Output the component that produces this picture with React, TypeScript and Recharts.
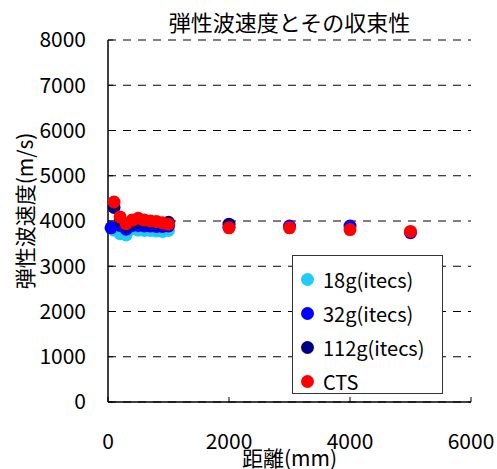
import React from 'react';
import {
  ScatterChart,
  Scatter,
  XAxis,
  YAxis,
  CartesianGrid,
  Legend,
} from 'recharts';

const FONT = '"Noto Sans CJK JP", "Noto Sans", sans-serif';

const xTicks = [0, 2000, 4000, 6000];
const yTicks = [0, 1000, 2000, 3000, 4000, 5000, 6000, 7000, 8000];

const dist18 = [100, 200, 300, 400, 500, 600, 700, 800, 900, 1000];
const vel18 = [3800, 3720, 3690, 3830, 3800, 3790, 3790, 3780, 3770, 3790];

const dist32 = [50, 200, 300, 400, 500, 600, 700, 800, 900, 1000, 2000, 3000, 4000, 5000];
const vel32 = [3850, 3900, 3820, 3900, 3900, 3890, 3890, 3880, 3880, 3890, 3870, 3890, 3890, 3740];

const dist112 = [100, 200, 300, 400, 500, 600, 700, 800, 900, 1000, 2000];
const vel112 = [4300, 4000, 3900, 3950, 3990, 3980, 3970, 3960, 3950, 3970, 3930];

const distCTS = [100, 200, 300, 400, 500, 600, 700, 800, 900, 1000, 2000, 3000, 4000, 5000];
const velCTS = [4420, 4090, 3940, 4020, 4060, 4020, 4000, 3990, 3960, 3930, 3850, 3850, 3810, 3770];

const toPoints = (xs: number[], ys: number[]) => xs.map((x, i) => ({ x, y: ys[i] }));

const series = [
  { name: '18g(itecs)', color: '#1ECCF5', data: toPoints(dist18, vel18) },
  { name: '32g(itecs)', color: '#0000FF', data: toPoints(dist32, vel32) },
  { name: '112g(itecs)', color: '#000080', data: toPoints(dist112, vel112) },
  { name: 'CTS', color: '#FF0000', data: toPoints(distCTS, velCTS) },
];

const dot = (color: string) => (props: any) => (
  <circle cx={props.cx} cy={props.cy} r={6.5} fill={color} />
);

const LegendBox = () => (
  <div
    style={{
      border: '1px solid #333',
      background: '#fff',
      padding: '6px 0 0 8px',
      boxSizing: 'border-box',
      width: 151,
      height: 139,
      fontFamily: FONT,
      fontSize: 20,
    }}
  >
    {series.map(s => (
      <div key={s.name} style={{ display: 'flex', alignItems: 'center', height: 34 }}>
        <span
          style={{
            width: 13,
            height: 13,
            borderRadius: '50%',
            background: s.color,
            marginRight: 9,
            display: 'inline-block',
          }}
        />
        <span>{s.name}</span>
      </div>
    ))}
  </div>
);

const YLabel = (props: any) => {
  const vb = props.viewBox;
  const cx = 24;
  const cy = vb.y + vb.height / 2 - 10;
  return (
    <text
      x={cx}
      y={cy}
      transform={`rotate(-90, ${cx}, ${cy})`}
      textAnchor="middle"
      dominantBaseline="central"
      fontSize={21}
      fontFamily={FONT}
      fill="#000"
    >
      弾性波速度(m/s)
    </text>
  );
};

export default function App() {
  return (
    <div style={{ position: 'absolute', left: 0, top: 0, width: 497, height: 469, background: '#fff' }}>
      <div
        style={{
          position: 'absolute',
          left: 108,
          width: 363,
          top: 6,
          textAlign: 'center',
          fontFamily: FONT,
          fontSize: 22,
          lineHeight: '30px',
          zIndex: 2,
        }}
      >
        弾性波速度とその収束性
      </div>
      <ScatterChart width={497} height={469} margin={{ top: 40, right: 26, bottom: 0, left: 0 }}>
        <CartesianGrid horizontal vertical={false} stroke="#000" strokeDasharray="8 7" />
        <XAxis
          type="number"
          dataKey="x"
          domain={[0, 6000]}
          ticks={xTicks}
          height={67}
          axisLine={{ stroke: '#000', strokeWidth: 1.5 }}
          tickLine={{ stroke: '#000' }}
          tickSize={-5}
          tickMargin={37}
          tick={{ fill: '#000', fontSize: 21, fontFamily: FONT }}
          label={{ value: '距離(mm)', position: 'insideBottom', offset: 3, fill: '#000', fontSize: 21, fontFamily: FONT }}
        />
        <XAxis
          xAxisId="top"
          orientation="top"
          type="number"
          domain={[0, 6000]}
          height={0}
          tick={false}
          tickLine={false}
          axisLine={{ stroke: '#000', strokeWidth: 1.5 }}
        />
        <YAxis
          type="number"
          dataKey="y"
          domain={[0, 8000]}
          ticks={yTicks}
          width={108}
          axisLine={{ stroke: '#000', strokeWidth: 1.5 }}
          tickLine={{ stroke: '#000' }}
          tickSize={-5}
          tickMargin={27}
          tick={{ fill: '#000', fontSize: 21, fontFamily: FONT }}
          label={<YLabel />}
        />
        <YAxis
          yAxisId="right"
          orientation="right"
          type="number"
          domain={[0, 8000]}
          width={0}
          tick={false}
          tickLine={false}
          axisLine={{ stroke: '#000', strokeWidth: 1.5 }}
        />
        {series.map(s => (
          <Scatter
            key={s.name}
            name={s.name}
            data={s.data}
            fill={s.color}
            shape={dot(s.color)}
            isAnimationActive={false}
          />
        ))}
        <Legend
          layout="horizontal"
          verticalAlign="middle"
          align="center"
          content={<LegendBox />}
          wrapperStyle={{ left: 292, top: 255, width: 151, height: 139 }}
        />
      </ScatterChart>
    </div>
  );
}
